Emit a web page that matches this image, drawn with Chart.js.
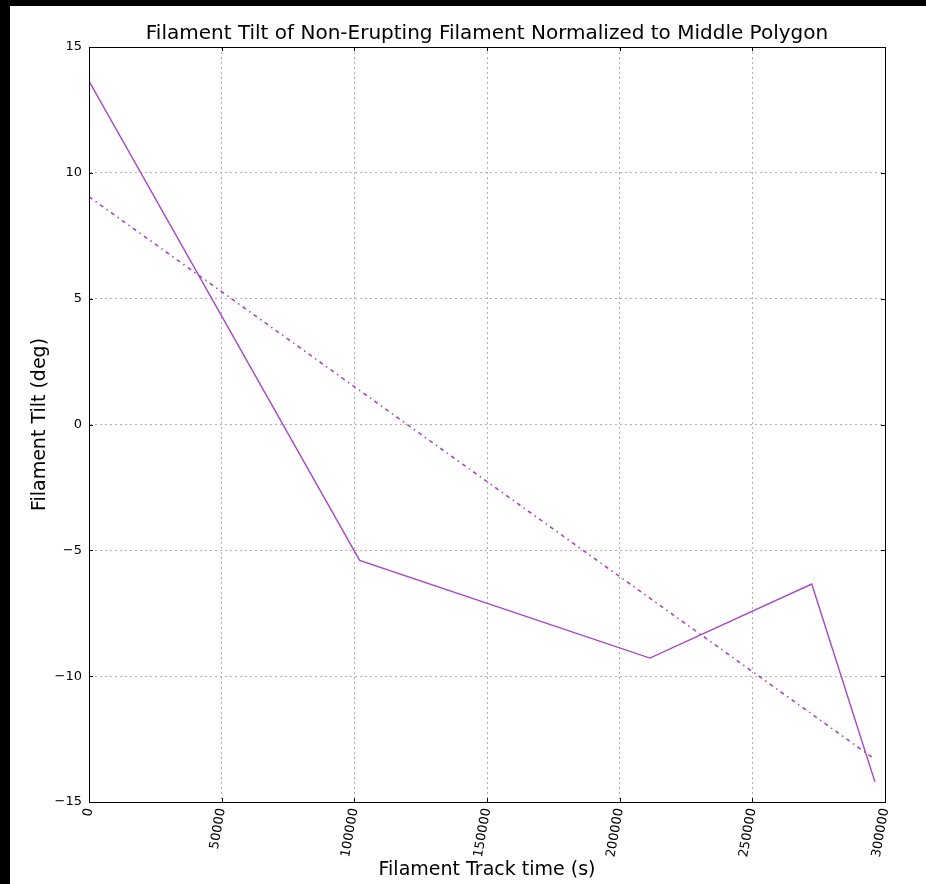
<!DOCTYPE html>
<html>
<head>
<meta charset="utf-8">
<script src="https://cdn.jsdelivr.net/npm/chart.js@4"></script>
<style>
  html, body { margin: 0; padding: 0; background: #000; }
  #wrap { position: absolute; left: 10px; top: 6px; width: 916px; height: 878px; background: #fff; }
</style>
</head>
<body>
<div id="wrap"><canvas id="chart" width="916" height="878"></canvas></div>
<script>
// track times (s) and tilt (deg)
const trackTimes = [0, 102000, 211400, 272400, 296200];
const tiltValues = [13.65, -5.4, -9.28, -6.34, -14.2];

// fitted trend
const trendTimes = [0, 296200];
const trendValues = [9.05, -13.3];

const xTicks = [0, 50000, 100000, 150000, 200000, 250000, 300000];
const yTicks = [-15, -10, -5, 0, 5, 10, 15];

const lineColor = '#a846c4';

const toPoints = (xs, ys) => xs.map((x, i) => ({ x: x, y: ys[i] }));

// frame round the plot with inward ticks, like the matplotlib classic style
const frame = {
    id: 'frame',
    afterDatasetsDraw(chart) {
        const { ctx, chartArea: a, scales } = chart;
        ctx.save();
        ctx.strokeStyle = '#000';
        ctx.lineWidth = 1;
        ctx.beginPath();
        xTicks.forEach(v => {
            const px = Math.round(scales.x.getPixelForValue(v)) + 0.5;
            ctx.moveTo(px, a.bottom); ctx.lineTo(px, a.bottom - 4);
            ctx.moveTo(px, a.top); ctx.lineTo(px, a.top + 4);
        });
        yTicks.forEach(v => {
            const py = Math.round(scales.y.getPixelForValue(v)) + 0.5;
            ctx.moveTo(a.left, py); ctx.lineTo(a.left + 4, py);
            ctx.moveTo(a.right, py); ctx.lineTo(a.right - 4, py);
        });
        ctx.stroke();
        ctx.strokeRect(Math.round(a.left) + 0.5, Math.round(a.top) + 0.5,
            Math.round(a.right - a.left), Math.round(a.bottom - a.top));
        ctx.restore();
    }
};

const gridStyle = {
    color: '#b0b0b0',
    drawTicks: false
};

new Chart(document.getElementById('chart'), {
    type: 'line',
    data: {
        datasets: [{
            label: 'Tilt',
            data: toPoints(trackTimes, tiltValues),
            borderColor: lineColor,
            borderWidth: 1.4,
            pointRadius: 0,
            tension: 0
        }, {
            label: 'Fit',
            data: toPoints(trendTimes, trendValues),
            borderColor: lineColor,
            borderWidth: 1.6,
            borderDash: [4, 4, 1.5, 4],
            pointRadius: 0,
            tension: 0
        }]
    },
    options: {
        responsive: false,
        animation: false,
        layout: { padding: { left: 0, right: 41, top: 0, bottom: 0 } },
        plugins: {
            legend: { display: false },
            tooltip: { enabled: false },
            title: {
                display: true,
                fullSize: false,
                text: 'Filament Tilt of Non-Erupting Filament Normalized to Middle Polygon',
                font: { family: 'DejaVu Sans', size: 20, weight: 'normal' },
                color: '#000',
                padding: { top: 16, bottom: 1 }
            }
        },
        scales: {
            x: {
                type: 'linear',
                min: 0,
                max: 300000,
                afterBuildTicks: s => { s.ticks = xTicks.map(v => ({ value: v })); },
                afterFit: s => { s.height = 82; },
                grid: { ...gridStyle },
                border: { color: '#000', width: 1, dash: [2, 3] },
                ticks: {
                    minRotation: 80,
                    maxRotation: 80,
                    padding: 5,
                    color: '#000',
                    font: { family: 'DejaVu Sans', size: 13 },
                    callback: v => String(v)
                },
                title: {
                    display: true,
                    text: 'Filament Track time (s)',
                    color: '#000',
                    font: { family: 'DejaVu Sans', size: 19 },
                    padding: { top: 0, bottom: 3 }
                }
            },
            y: {
                type: 'linear',
                min: -15,
                max: 15,
                afterBuildTicks: s => { s.ticks = yTicks.map(v => ({ value: v })); },
                afterFit: s => { s.width = 79; },
                grid: { ...gridStyle },
                border: { color: '#000', width: 1, dash: [2, 3] },
                ticks: {
                    padding: 7,
                    color: '#000',
                    font: { family: 'DejaVu Sans', size: 13 },
                    callback: v => String(v).replace('-', '\u2212')
                },
                title: {
                    display: true,
                    text: 'Filament Tilt (deg)',
                    color: '#000',
                    font: { family: 'DejaVu Sans', size: 19 },
                    padding: { top: 19, bottom: 0 }
                }
            }
        }
    },
    plugins: [frame]
});
</script>
</body>
</html>
